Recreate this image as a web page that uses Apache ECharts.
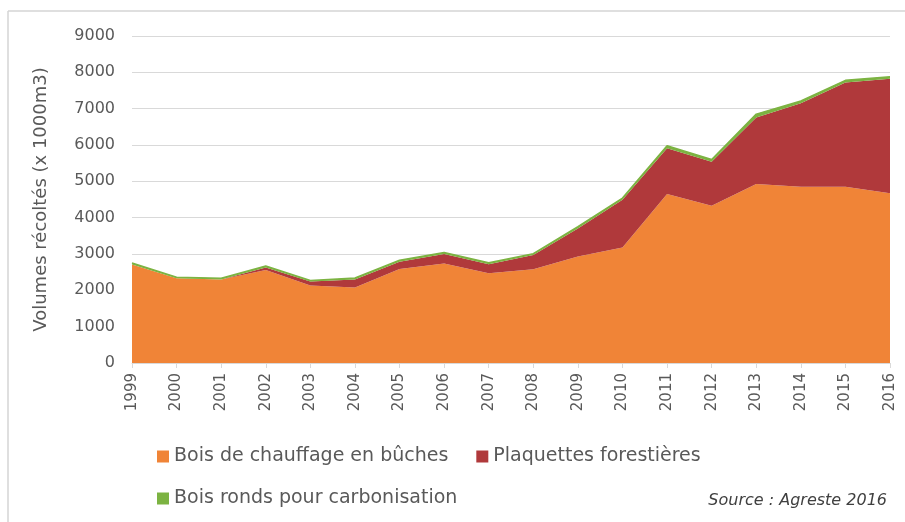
<!DOCTYPE html>
<html>
<head>
<meta charset="utf-8">
<script src="https://cdn.jsdelivr.net/npm/echarts@6/dist/echarts.min.js"></script>
<style>
    html, body { margin: 0; padding: 0; background: #fff; }
    #chart { width: 905px; height: 522px; }
</style>
</head>
<body>
<div id="chart"></div>
<script>
    // années
    var years = ['1999','2000','2001','2002','2003','2004','2005','2006','2007','2008',
                 '2009','2010','2011','2012','2013','2014','2015','2016'];
    // volumes en milliers de m3
    var buches = [2710, 2330, 2300, 2560, 2130, 2080, 2590, 2740, 2470, 2580,
                  2930, 3180, 4650, 4330, 4930, 4850, 4850, 4670];
    var plaquettes = [0, 0, 0, 70, 110, 220, 200, 260, 250, 390,
                      770, 1310, 1260, 1210, 1830, 2300, 2870, 3150];
    var carbonisation = [40, 30, 30, 40, 30, 40, 40, 40, 40, 40,
                         50, 50, 70, 60, 90, 60, 60, 60];
    var yTicks = [0, 9000, 1000];

    var myChart = echarts.init(document.getElementById('chart'));
    var txt = '#595959';
    var ff = '"DejaVu Sans", sans-serif';

    var option = {
        animation: false,
        textStyle: { fontFamily: ff },
        grid: { left: 132, right: 15, top: 36, bottom: 159 },
        legend: [
            {
                left: 152, top: 442,
                icon: 'rect', itemWidth: 12, itemHeight: 12, itemGap: 28,
                textStyle: { fontSize: 19, color: txt, fontFamily: ff },
                data: ['Bois de chauffage en bûches', 'Plaquettes forestières']
            },
            {
                left: 152, top: 484,
                icon: 'rect', itemWidth: 12, itemHeight: 12,
                textStyle: { fontSize: 19, color: txt, fontFamily: ff },
                data: ['Bois ronds pour carbonisation']
            }
        ],
        graphic: [
            {
                type: 'line', silent: true,
                shape: { x1: 8, y1: 11, x2: 905, y2: 11 },
                style: { stroke: '#d4d4d4', lineWidth: 1.5 }
            },
            {
                type: 'line', silent: true,
                shape: { x1: 8, y1: 11, x2: 8, y2: 522 },
                style: { stroke: '#d4d4d4', lineWidth: 1.5 }
            },
            {
                type: 'text', right: 18, top: 493,
                style: {
                    text: 'Source : Agreste 2016',
                    font: 'italic 16px ' + ff,
                    fill: '#404040'
                }
            }
        ],
        xAxis: {
            type: 'category',
            data: years,
            boundaryGap: false,
            axisLine: { lineStyle: { color: '#d9d9d9' } },
            axisTick: { show: true, lineStyle: { color: '#d9d9d9' } },
            axisLabel: { rotate: 90, color: txt, fontSize: 15, margin: 10 }
        },
        yAxis: {
            type: 'value',
            min: yTicks[0], max: yTicks[1], interval: yTicks[2],
            name: 'Volumes récoltés (x 1000m3)',
            nameLocation: 'middle',
            nameRotate: 90,
            nameGap: 82,
            nameTextStyle: { fontSize: 18, color: txt },
            axisLine: { show: false },
            axisTick: { show: false },
            axisLabel: {
                color: txt, fontSize: 16, margin: 17,
                formatter: function (v) { return String(v); }
            },
            splitLine: { lineStyle: { color: '#d9d9d9' } }
        },
        series: [
            {
                name: 'Bois de chauffage en bûches',
                type: 'line', stack: 'total', symbol: 'none',
                lineStyle: { width: 0 },
                itemStyle: { color: '#F08437' },
                areaStyle: { color: '#F08437', opacity: 1 },
                data: buches
            },
            {
                name: 'Plaquettes forestières',
                type: 'line', stack: 'total', symbol: 'none',
                lineStyle: { width: 0 },
                itemStyle: { color: '#B0393B' },
                areaStyle: { color: '#B0393B', opacity: 1 },
                data: plaquettes
            },
            {
                name: 'Bois ronds pour carbonisation',
                type: 'line', stack: 'total', symbol: 'none',
                lineStyle: { width: 1.5, color: '#7CB342' },
                itemStyle: { color: '#7CB342' },
                areaStyle: { color: '#7CB342', opacity: 1 },
                data: carbonisation
            }
        ]
    };

    myChart.setOption(option);
</script>
</body>
</html>
